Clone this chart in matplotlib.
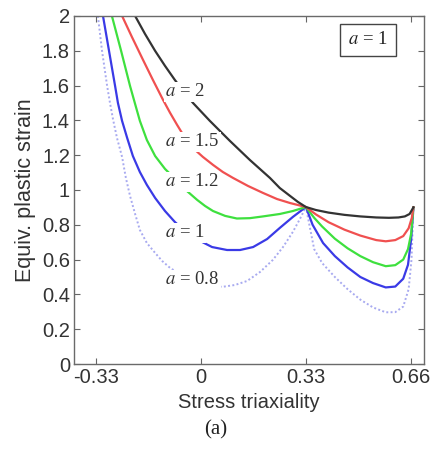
import numpy as np
import matplotlib
matplotlib.use("Agg")
import matplotlib.pyplot as plt

plt.rcParams['mathtext.fontset'] = 'stix'
plt.rcParams['font.family'] = ['Liberation Sans', 'DejaVu Sans']

# values (stress triaxiality, equiv. plastic strain)
x_a2 = [-0.208, -0.177, -0.145, -0.114, -0.083, -0.054, -0.026, 0.027, 0.090, 0.153, 0.216,
        0.247, 0.279, 0.304, 0.329,
        0.36, 0.40, 0.45, 0.50, 0.55, 0.59, 0.62, 0.64, 0.655, 0.667]
y_a2 = [2.00, 1.897, 1.799, 1.713, 1.632, 1.563, 1.500, 1.397, 1.282, 1.172, 1.069,
        1.011, 0.966, 0.931, 0.902,
        0.885, 0.870, 0.857, 0.848, 0.842, 0.840, 0.842, 0.848, 0.862, 0.900]

x_a15 = [-0.249, -0.218, -0.183, -0.152, -0.120, -0.098, -0.076, -0.051, -0.026, 0.005,
         0.037, 0.068, 0.100, 0.147, 0.194, 0.238, 0.279, 0.329,
         0.36, 0.40, 0.45, 0.50, 0.55, 0.58, 0.61, 0.635, 0.652, 0.662, 0.667]
y_a15 = [2.00, 1.879, 1.747, 1.632, 1.517, 1.443, 1.374, 1.299, 1.241, 1.190,
         1.144, 1.103, 1.069, 1.023, 0.983, 0.948, 0.925, 0.902,
         0.860, 0.815, 0.772, 0.738, 0.712, 0.705, 0.712, 0.735, 0.780, 0.840, 0.900]

x_a12 = [-0.281, -0.252, -0.224, -0.208, -0.193, -0.171, -0.145, -0.114, -0.076, -0.045,
         -0.013, 0.012, 0.037, 0.075, 0.112, 0.153, 0.194, 0.247, 0.288, 0.329,
         0.355, 0.38, 0.42, 0.46, 0.50, 0.54, 0.58, 0.61, 0.635, 0.650, 0.660, 0.667]
y_a12 = [2.00, 1.799, 1.598, 1.494, 1.397, 1.287, 1.195, 1.121, 1.052, 0.994,
         0.943, 0.908, 0.879, 0.851, 0.836, 0.838, 0.848, 0.862, 0.879, 0.902,
         0.840, 0.790, 0.720, 0.665, 0.620, 0.585, 0.562, 0.568, 0.600, 0.660, 0.750, 0.900]

x_a1 = [-0.309, -0.290, -0.271, -0.262, -0.249, -0.233, -0.215, -0.193, -0.171, -0.145,
        -0.114, -0.083, -0.048, -0.010, 0.034, 0.081, 0.122, 0.163, 0.207, 0.247, 0.288, 0.329,
        0.35, 0.383, 0.42, 0.46, 0.50, 0.54, 0.58, 0.61, 0.635, 0.650, 0.660, 0.667]
y_a1 = [2.00, 1.799, 1.598, 1.500, 1.397, 1.299, 1.195, 1.103, 1.029, 0.954,
        0.879, 0.816, 0.759, 0.713, 0.672, 0.655, 0.655, 0.672, 0.718, 0.782, 0.845, 0.902,
        0.800, 0.695, 0.620, 0.555, 0.500, 0.465, 0.440, 0.445, 0.490, 0.570, 0.720, 0.900]

x_a08 = [-0.325, -0.312, -0.296, -0.287, -0.277, -0.265, -0.249, -0.237, -0.224, -0.208,
         -0.193, -0.171, -0.145, -0.123, -0.098, -0.067, -0.035, -0.004, 0.027, 0.065,
         0.106, 0.144, 0.185, 0.225, 0.257, 0.288, 0.310, 0.329,
         0.342, 0.355, 0.38, 0.42, 0.46, 0.50, 0.54, 0.58, 0.61, 0.635, 0.652, 0.661, 0.667]
y_a08 = [2.00, 1.799, 1.598, 1.500, 1.402, 1.299, 1.190, 1.069, 0.966, 0.862,
         0.770, 0.695, 0.638, 0.592, 0.552, 0.517, 0.489, 0.471, 0.454, 0.443,
         0.454, 0.477, 0.529, 0.598, 0.672, 0.759, 0.833, 0.902,
         0.780, 0.660, 0.580, 0.500, 0.430, 0.370, 0.325, 0.297, 0.298, 0.330, 0.430, 0.600, 0.900]

x_ticks = [-0.33, 0, 0.33, 0.66]
x_ticklabels = ['-0.33', '0', '0.33', '0.66']
y_ticks = [0, 0.2, 0.4, 0.6, 0.8, 1, 1.2, 1.4, 1.6, 1.8, 2]
y_ticklabels = ['0', '0.2', '0.4', '0.6', '0.8', '1', '1.2', '1.4', '1.6', '1.8', '2']

curve_labels = ['2', '1.5', '1.2', '1', '0.8']
label_y = [1.563, 1.276, 1.046, 0.753, 0.483]

fig = plt.figure(figsize=(4.33, 4.55), dpi=100)
ax = fig.add_axes([0.171, 0.200, 0.808, 0.765])

# lightest first so darker curves end on top
ax.plot(x_a08, y_a08, linestyle=(0, (1, 1.2)), color='#a8aaf0', lw=1.4)
ax.plot(x_a1, y_a1, '-', color='#3a3ae6', lw=1.6)
ax.plot(x_a12, y_a12, '-', color='#3ee03e', lw=1.6)
ax.plot(x_a15, y_a15, '-', color='#f05050', lw=1.6)
ax.plot(x_a2, y_a2, '-', color='#333333', lw=1.6)

# in-plot curve labels, white box gives the gap in the lines
for lab, yy in zip(curve_labels, label_y):
    ax.text(-0.113, yy, r'$a$ = ' + lab, family='Liberation Serif', fontsize=13.5,
            ha='left', va='center', color='#333333',
            bbox=dict(facecolor='white', edgecolor='none', pad=1.0))

ax.text(0.524, 1.862, r'$a$ = 1', family='Liberation Serif', fontsize=13.5,
        ha='center', va='center', color='#222222',
        bbox=dict(facecolor='white', edgecolor='#444444', lw=1.0, boxstyle='square,pad=0.42'))

ax.set_xlim(-0.4, 0.7)
ax.set_ylim(0, 2)
ax.set_xticks(x_ticks)
ax.set_xticklabels(x_ticklabels)
ax.set_yticks(y_ticks)
ax.set_yticklabels(y_ticklabels)
ax.tick_params(direction='in', length=4, width=0.8, color='#666666',
               top=True, right=True, labelsize=14.5, labelcolor='#333333', pad=3)
for s in ax.spines.values():
    s.set_color('#6a6a6a')
    s.set_linewidth(1.0)

ax.set_xlabel('Stress triaxiality', fontsize=14.5, color='#333333', labelpad=4)
ax.set_ylabel('Equiv. plastic strain', fontsize=15.5, color='#333333', labelpad=4)

fig.text(0.497, 0.055, '(a)', family='Liberation Serif', fontsize=15,
         ha='center', va='center', color='#222222')

fig.savefig('out.png', dpi=100)
